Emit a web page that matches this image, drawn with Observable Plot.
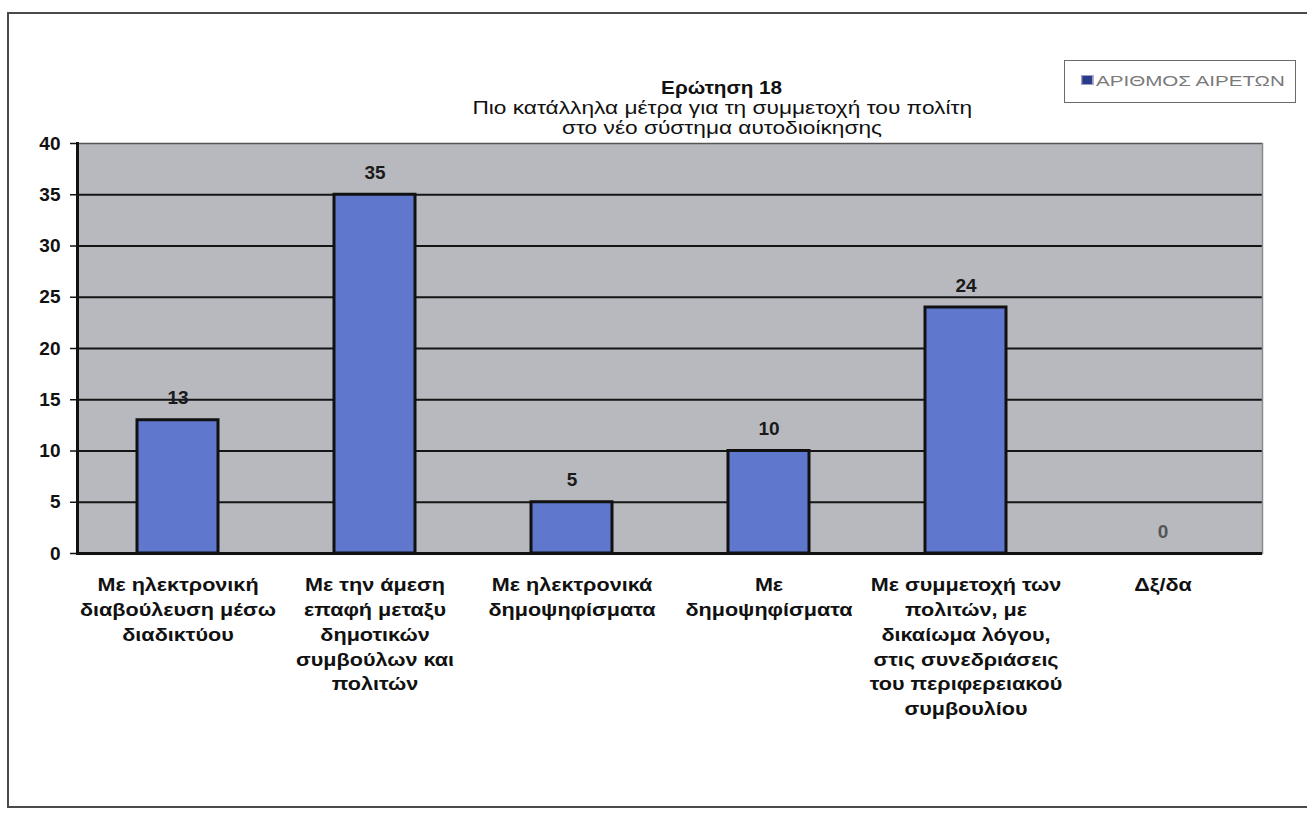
<!DOCTYPE html>
<html>
<head>
<meta charset="utf-8">
<script src="https://cdn.jsdelivr.net/npm/d3@7"></script>
<script src="https://cdn.jsdelivr.net/npm/@observablehq/plot@0.6"></script>
<style>
  html, body { margin: 0; padding: 0; background: #fff; }
  body { width: 1307px; height: 814px; overflow: hidden; position: relative;
         font-family: "Liberation Sans", Arial, sans-serif; }
  #frame { position: absolute; left: 7px; top: 12px; width: 1400px; height: 792px;
           border: 2px solid #4a4a4a; border-right: none; }
  #chart { position: absolute; left: 0; top: 0; }
  #title { position: absolute; left: 422px; width: 600px; top: 78px; text-align: center;
           color: #111; z-index: 2; }
  #title div { height: 20px; line-height: 20px; }
  #title span { display: inline-block; transform-origin: center; }
  #title .t span { font-weight: bold; font-size: 18px; transform: scaleX(1.15); }
  #title .s span { font-size: 18px; transform: scaleX(1.26); }
  #legend { position: absolute; left: 1064px; top: 60px; width: 232px; height: 43px;
            border: 1.5px solid #6a6a6a; z-index: 2; box-sizing: border-box;
            color: #7a7a7a; font-size: 15px; line-height: 40px; white-space: nowrap; }
  #legend .in { display: inline-block; transform: scaleX(1.37); transform-origin: left center;
                margin-left: 16px; }
  #legend .sw { display: inline-block; width: 7px; height: 8px; background: #2c3a8c;
                border: 1px solid #9aa0c0; margin-right: 2px; vertical-align: 1px; }
</style>
</head>
<body>
<div id="frame"></div>
<div id="chart"></div>
<div id="title"></div>
<div id="legend"></div>
<script>
// ---- data ----
const categories = [
  "Με ηλεκτρονική διαβούλευση μέσω διαδικτύου",
  "Με την άμεση επαφή μεταξυ δημοτικών συμβούλων και πολιτών",
  "Με ηλεκτρονικά δημοψηφίσματα",
  "Με δημοψηφίσματα",
  "Με συμμετοχή των πολιτών, με δικαίωμα λόγου, στις συνεδριάσεις του περιφερειακού συμβουλίου",
  "Δξ/δα"
];
const values = [13, 35, 5, 10, 24, 0];
const tickLabels = [
  "Με ηλεκτρονική\nδιαβούλευση μέσω\nδιαδικτύου",
  "Με την άμεση\nεπαφή μεταξυ\nδημοτικών\nσυμβούλων και\nπολιτών",
  "Με ηλεκτρονικά\nδημοψηφίσματα",
  "Με\nδημοψηφίσματα",
  "Με συμμετοχή των\nπολιτών, με\nδικαίωμα λόγου,\nστις συνεδριάσεις\nτου περιφερειακού\nσυμβουλίου",
  "Δξ/δα"
];
const yTicks = [0, 5, 10, 15, 20, 25, 30, 35, 40];
const gridValues = [5, 10, 15, 20, 25, 30, 35];
const titleText = "Ερώτηση 18";
const subtitleLines = ["Πιο κατάλληλα μέτρα για τη συμμετοχή του πολίτη", "στο νέο σύστημα αυτοδιοίκησης"];
const seriesName = "ΑΡΙΘΜΟΣ ΑΙΡΕΤΩΝ";

const data = categories.map((c, i) => ({category: c, value: values[i]}));
const labelOf = new Map(categories.map((c, i) => [c, tickLabels[i]]));

// ---- titles & legend ----
document.getElementById("title").innerHTML =
  `<div class="t"><span>${titleText}</span></div>` +
  subtitleLines.map(s => `<div class="s"><span>${s}</span></div>`).join("");
document.getElementById("legend").innerHTML =
  `<span class="in"><span class="sw"></span>${seriesName}</span>`;

// ---- chart ----
const chart = Plot.plot({
  width: 1307,
  height: 814,
  marginLeft: 77,
  marginRight: 45,
  marginTop: 143,
  marginBottom: 261,
  style: {background: "transparent", fontFamily: "'Liberation Sans', Arial, sans-serif", color: "#111"},
  x: {domain: categories, paddingInner: 0.59, paddingOuter: 0.295, label: null},
  y: {domain: [0, 40], label: null},
  marks: [
    Plot.frame({fill: "#b7b9be", stroke: null}),
    Plot.ruleY([40], {stroke: "#555", strokeWidth: 1.5}),
    Plot.ruleY(gridValues, {stroke: "#151515", strokeWidth: 2}),
    Plot.frame({anchor: "right", stroke: "#8a8a8a", strokeWidth: 1.5}),
    Plot.barY(data, {x: "category", y: "value", fill: "#5f78cd", stroke: "#111", strokeWidth: 3}),
    Plot.text(data, {x: "category", y: "value", text: d => String(d.value), dy: -22,
      fontSize: 19, fontWeight: "bold", fill: d => d.value === 0 ? "#555" : "#1a1a1a"}),
    Plot.ruleY([0], {stroke: "#111", strokeWidth: 3}),
    Plot.frame({anchor: "left", stroke: "#111", strokeWidth: 3}),
    Plot.axisY({ticks: yTicks, tickSize: 7, tickPadding: 10, fontSize: 19, fontWeight: "bold",
      stroke: "#111", strokeWidth: 1.5, label: null}),
    Plot.axisX({tickSize: 0, tickPadding: 20, fontSize: 18, fontWeight: "bold", lineHeight: 1.38,
      tickFormat: d => labelOf.get(d), label: null})
  ]
});
document.getElementById("chart").appendChild(chart);

// widen the x tick labels horizontally, as in the scanned original
chart.querySelectorAll('g[aria-label="x-axis tick label"] text').forEach(t => {
  const tr = t.getAttribute("transform");
  if (tr) t.setAttribute("transform", tr + " scale(1.2,1)");
});
</script>
</body>
</html>
